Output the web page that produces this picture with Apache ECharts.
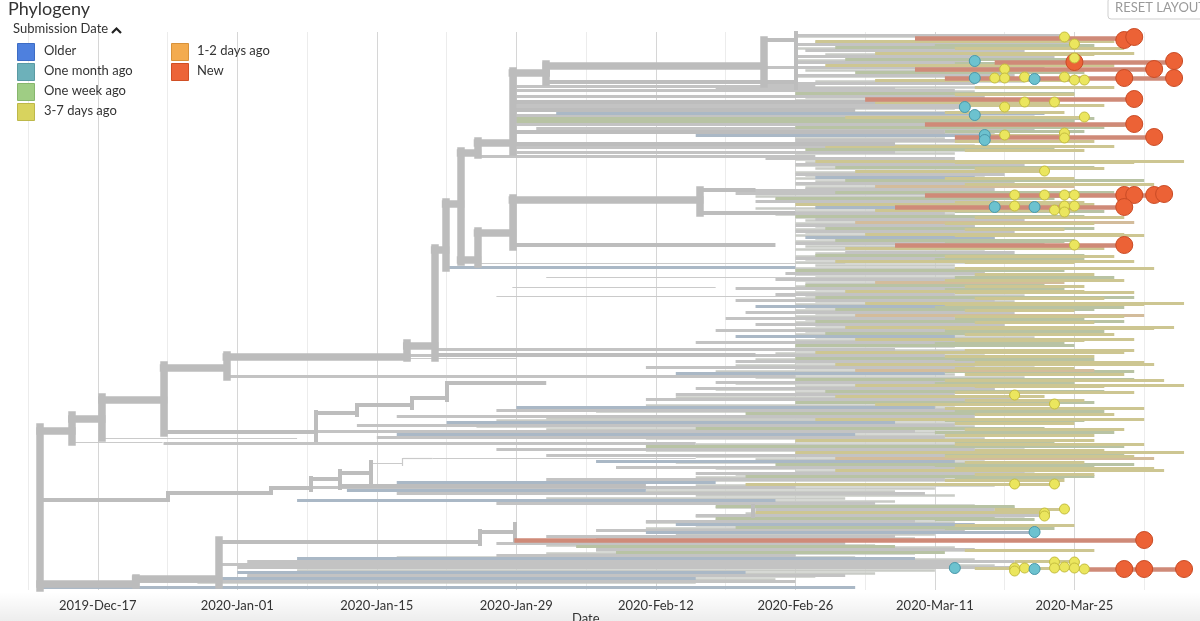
<!DOCTYPE html>
<html>
<head>
<meta charset="utf-8">
<script src="https://cdn.jsdelivr.net/npm/echarts@6/dist/echarts.min.js"></script>
<style>
html,body{margin:0;padding:0;background:#ffffff;}
#chart{width:1200px;height:621px;}
</style>
</head>
<body>
<div id="chart"></div>
<script>
// x = days after 2019-12-17, y = row position in the tree layout (top -> bottom)
const tickLabels = ['2019-Dec-17','2020-Jan-01','2020-Jan-15','2020-Jan-29','2020-Feb-12','2020-Feb-26','2020-Mar-11','2020-Mar-25'];
const legendLeft = ['Older','One month ago','One week ago','3-7 days ago'];
const legendRight = ['1-2 days ago','New'];

// Backbone horizontal branches [startDay, endDay, row]
const trunkHeavyH = [
  [-5.8,-2.6,431],[-2.6,0.4,419],[0.4,6.6,400],[6.6,12.9,368],[12.9,31.0,357],
  [31.0,33.8,346],[33.8,34.9,250],[34.9,36.4,204],[36.4,38.1,260],[38.1,41.6,233],
  [41.6,60.4,200],[36.4,38.1,153],[38.1,41.6,143],[41.6,45.0,73],[45.0,66.8,66],
  [-5.8,3.8,584],[3.8,12.1,579]
];
// Backbone vertical connectors [day, rowTop, rowBottom]
const trunkHeavyV = [
  [-5.8,427,588],[-2.6,415,442],[0.4,397,438],[6.6,365,433],[12.9,355,377],
  [31.0,343,358],[33.8,248,358],[34.9,202,268],[36.4,151,262],[38.1,231,264],
  [38.1,141,155],[41.6,198,247],[41.6,71,152],[45.0,64,82],[60.4,190,213],
  [66.8,40,84],[3.8,578,585],[12.1,540,585]
];
const trunkMediumH = [
  [41.6,68,245],[45.0,70,82],[66.8,70,40],[-5.8,7.0,500],[7.0,17.4,493],
  [17.4,21.4,488],[21.4,24.3,479],[24.3,27.4,473],[12.1,38.3,542],[38.3,41.8,532],
  [33.8,66,355],[60.4,66,190],[60.4,70,213],[24.3,55,486],[6.6,21.9,432],
  [21.9,26,413],[26,31.5,405],[31.5,35,398],[35,45,383],
  [41.6,78,102],[41.6,76,110],[41.6,85,132],[41.6,80,144]
];
const trunkMediumV = [
  [7.0,493,500],[17.4,488,493],[21.4,478,490],[24.3,471,488],[27.4,462,483],
  [38.3,531,544],[41.8,524,541],[70,33,88],[65.7,506,516],[21.9,412,440],
  [26,405,415],[31.5,398,408],[35,383,400]
];
const trunkThinH = [
  [-2.6,6.5,442],[0.4,20,438],[31.0,42,358],[27.4,30.6,463],[30.6,33.6,458],
  [34.9,70,268],[38.1,75,263],[45,73,277],[41.6,62,287],[40,70,296],[33.6,60,458]
];
const trunkThinV = [[30.6,458,466]];

// Tip lines by submission colour [startDay, endDay, row]
const tipsGray = [
  [70,97,35],[70,98,44],[71,93,50],[70,96,56],[70,88,62],[66.8,95,67],[70,92,75],[67,88,83],
  [42,72,86],[62,80,88],[42,86,90],[42,89,96],[42,90,104],[42,87,107],[42,88,115],[42,92,124],
  [44,94,128],[70,89,140],[42,92,147],[42,80,152],[38.1,72,156],
  [67,86,158],[70,93,164],[70,91,174],[70,92,183],[71,90,189],
  [61,85,190],[64,90,193],[66,90,201],[62,85,213],[72,93,219],[70,88,225],[70,92,231],[70,95,243],
  [75,92,252],[70,90,258],[69,89,273],[68,92,279],[64,90,288],[68,86,294],[64,90,300],
  [65,92,312],[63,86,318],[66,91,324],[62,89,330],[60,90,342],
  [33.8,80,349],[31,85,355],[64,92,361],[55,88,367],[12.9,70,376],[62,93,382],[60,90,388],
  [58,86,394],[55,92,399],[40,90,410],[30,88,416],[26,86,425],[22,82,431],[28,85,437],
  [6.6,60,443],[40,88,449],[45,92,455],[52,90,467],[60,93,473],[45,85,479],[20,70,487],[30,83,493],
  [40,78,503],[66,90,509],[60,95,515],[55,82,521],[50,87,530],[45,80,536],[40,75,543],[50,88,549],
  [40,70,555],[15,92,561],[12,86,564],[14,94,567],[15,75,575],[3.8,70,581]
];
const tipsGrayB = [
  [70,84,36.5],[72,90,42.5],[70,86,48.5],[73,92,54.5],[70,85,60.5],[71,89,70.5],[70,87,76.5],[72,93,81.5],
  [70,90,87.5],[72,88,91.5],[70,93,94.5],[71,86,97.5],[70,89,100.5],[73,95,105.5],[70,86,108.5],[70,91,112.5],
  [72,94,116.5],[70,88,122.5],[71,92,125.5],[70,87,129.5],[72,90,133.5],[70,85,138.5],[71,93,141.5],
  [70,88,145.5],[72,90,150.5],[70,86,153.5],
  [70,84,159.5],[71,90,162.5],[70,88,165.5],[72,92,168.5],[70,86,172.5],[71,89,175.5],[70,93,178.5],
  [72,87,181.5],[70,90,184.5],[71,88,187.5],
  [66,86,196.5],[68,89,199.5],[70,93,202.5],[66,88,208.5],[70,90,211.5],[68,86,214.5],[70,92,217.5],
  [71,89,220.5],[70,94,223.5],[72,88,226.5],[70,91,229.5],[71,87,232.5],[70,93,235.5],[72,90,238.5],
  [70,86,241.5],[71,92,246.5],[70,89,249.5],
  [72,90,253.5],[70,94,256.5],[71,88,259.5],[70,91,262.5],[72,86,265.5],[70,92,268.5],[71,89,271.5],
  [70,93,274.5],[72,87,277.5],[70,90,280.5],[71,94,283.5],[70,88,286.5],[72,91,289.5],[70,86,292.5],
  [71,93,295.5],[70,89,298.5],[72,92,301.5],[70,87,304.5],[71,90,307.5],[70,94,310.5],[72,88,313.5],
  [70,91,316.5],[71,86,319.5],[70,93,322.5],[72,89,325.5],[70,92,328.5],[71,87,331.5],[70,90,334.5],
  [72,94,337.5],[70,88,340.5],[71,91,343.5],[70,86,346.5],
  [70,92,350.5],[68,89,353.5],[70,93,356.5],[66,87,359.5],[70,90,362.5],[64,94,365.5],[70,88,368.5],
  [62,91,371.5],[70,86,374.5],[66,93,377.5],[70,89,380.5],[64,92,383.5],[70,87,386.5],[62,90,389.5],
  [70,94,392.5],[58,88,397.5],[70,91,400.5],[55,86,405.5],[60,93,408.5],[50,89,411.5],[70,92,414.5],
  [45,87,418.5],[40,90,420.5],[50,94,423.5],[38,88,426.5],[45,91,429.5],[40,86,432.5],[50,93,435.5],
  [55,89,438.5],
  [70,92,441.5],[60,88,444.5],[65,93,447.5],[55,90,450.5],[70,86,453.5],[60,94,456.5],[66,89,459.5],
  [58,92,462.5],[70,87,465.5],[62,90,468.5],[70,94,471.5],[64,88,474.5],[60,91,477.5],[55,86,480.5],
  [60,90,485.5],[50,84,488.5],[55,80,491.5],[60,86,495.5],[45,75,498.5],
  [55,80,501.5],[66,88,505],[62,92,507.5],[66,90,510.5],[65,88,513.5],[60,93,516.5],[62,90,519.5],
  [55,86,522.5],[60,92,525.5],[55,88,528.5],[58,84,534.5],[50,82,538],[45,78,545],[55,86,547.5],
  [50,90,550.5],[45,82,553.5],[30,76,557],[25,88,559.5],[20,85,562.5],[18,90,565.5],[20,84,570.5],
  [18,78,573.5],[15,72,576.5],[12,68,579.5],[10,60,582.5]
];
const tipsSage = [
  [74,99,47],[75,98,59],[76,99,72],[70,98,93],[41.6,100,118],[41.6,98,121],[70,101,127],
  [71,96,149],[74,100,167],[75,105,180],[74,102,192],[68,96,198],[70,99,216],[73,100,228],
  [74,98,240],[72,99,255],[70,97,270],[71,95,285],[72,104,297],[74,100,309],[72,103,321],
  [73,100,333],[70,98,345],[70,99,358],[70,104,379],[73,101,391],[70,100,402],[65,98,413],
  [60,95,428],[55,103,446],[68,104,464],[65,100,476],[62,92,506],[62,90,518],[64,90,527],
  [48,80,546],[52,85,552],
  [84,100,45.5],[86,97,63.5],[83,96,119.5],[85,99,131.5],[84,98,196.5],[86,101,211.5],[85,97,241.5],
  [84,99,259.5],[86,102,277.5],[85,97,289.5],[84,103,307.5],[86,99,319.5],[85,101,331.5],[84,97,343.5],
  [86,100,359.5],[85,104,371.5],[84,98,383.5],[86,101,411.5],[85,99,420.5],[84,102,432.5],[86,96,441.5],
  [85,103,453.5],[84,100,465.5],[86,97,477.5],[84,94,519.5],[85,96,528.5]
];
const tipsKhaki = [
  [72,102,41],[78,104,53],[73,102,65],[78,99,80],[72,96,102],[75,99,117],[89,97,135],
  [73,102,146],[72,109,161],[76,95,171],[85,98,195],[70,100,204],[78,98,210],[77,103,234],
  [75,101,248],[74,104,261],[75,99,291],[77,109,303],[75,108,327],[76,104,339],[72,103,352],
  [74,106,364],[76,109,385],[74,95,396],[78,96,404],[72,105,419],[70,100,440],[70,109,452],
  [74,107,470],[65,96,484],[90,97,509],[66,95,512],[92,98,561],[88,99,568],
  [86,103,48.5],[88,100,54.5],[85,99,70.5],[88,102,87.5],[86,98,94.5],[87,101,105.5],[85,97,112.5],
  [88,103,125.5],[86,100,141.5],[87,99,150.5],[86,104,162.5],[88,101,168.5],[85,98,178.5],[87,106,184.5],
  [86,99,202.5],[88,103,217.5],[85,100,223.5],[87,97,229.5],[86,105,235.5],
  [85,102,256.5],[87,98,262.5],[86,106,268.5],[88,100,274.5],[85,103,280.5],[87,99,286.5],[86,104,292.5],
  [88,101,298.5],[85,105,304.5],[87,98,310.5],[86,103,316.5],[88,100,322.5],[85,106,328.5],[87,102,334.5],
  [86,99,340.5],[87,104,350.5],[85,100,356.5],[88,105,362.5],[86,98,368.5],[87,103,374.5],[85,107,380.5],
  [88,101,386.5],[86,104,392.5],[87,99,400.5],[85,105,408.5],[88,102,414.5],[86,98,423.5],[87,103,429.5],
  [85,100,435.5],[86,105,444.5],[88,101,450.5],[85,104,456.5],[87,99,462.5],[86,106,468.5],[88,100,474.5],
  [85,97,480.5],[86,98,525.5],[87,100,550.5]
];
const tipsTan = [
  [78,98,186],[76,104,222],[78,97,282],[76,105,315],[76,100,370],[74,106,458]
];
const tipsBlue = [
  [46,95,113],[60,89,135],[72,88,177],[72,94,207],[71,90,237],[35,70,267],[66,88,306],
  [64,86,336],[58,85,373],[42,84,407],[35,80,422],[30,76,434],[50,86,461],[30,62,482],
  [25,55,490],[20,68,500],[58,88,524],[55,94,532],[20,82,558],[14,65,572],[12,60,578],[-5.8,76,587]
];
const tipsNew = [
  [82,104,38],[90,108,62],[82,106,69],[85,108,78],[77,104,99],[83,104,124],[86,106,137],
  [83,107,195],[80,103,207],[80,103,245],[41.8,105,540],[99,109,569]
];

// Tip markers [day, row]
const newDots = [
  [103,40],[104,37],[98,62],[108,61],[106,69],[103,78],[108,78],[104,99],[104,124],[106,137],
  [103,195],[104,195],[106,195],[107,194],[103,207],[103,245],[105,540],[103,569],[105,569],[109,569]
];
const recentDots = [
  [97,37],[98,44],[98,58],[91,69],[90,78],[91,78],[93,77],[97,77],[98,80],[99,80],[93,102],[96,102],
  [91,107],[99,117],[91,135],[97,133],[97,138],[95,171],[92,195],[95,195],[97,195],[98,195],
  [92,206],[96,210],[97,206],[97,212],[98,206],[98,245],[92,395],[96,404],[92,484],[96,484],
  [95,513],[95,516],[97,509],[92,568],[92,571],[93,568],[96,562],[96,568],[97,567],[98,562],[98,568],[99,569]
];
const monthDots = [
  [88,61],[88,78],[94,79],[87,107],[88,115],[89,135],[89,140],[90,207],[94,207],[94,532],[86,568],[94,569]
];

const FONT = 'Lato, "Open Sans", sans-serif';
const legendColors = {
  'Older': ['#4e80de','#3d6cc4'],
  'One month ago': ['#6db1ba','#5a9aa3'],
  'One week ago': ['#9fcd84','#87b66d'],
  '3-7 days ago': ['#d8d35e','#bdb84a'],
  '1-2 days ago': ['#f3ab4e','#d8923a'],
  'New': ['#ec6438','#d04f25']
};

const hLines = arr => arr.map(([a,b,r]) => ({coords:[[a,r],[b,r]]}));
const vLines = arr => arr.map(([d,t,b]) => ({coords:[[d,t],[d,b]]}));
function lineSeries(name, data, color, width, z, cap){
  return {type:'lines', name, coordinateSystem:'cartesian2d', polyline:false, data,
    lineStyle:{color, width, opacity:1, curveness:0, cap: cap || 'butt'},
    silent:true, z, animation:false, clip:false};
}
function dotSeries(name, data, color, border, size, z){
  return {type:'scatter', name, data, symbol:'circle', symbolSize:size,
    itemStyle:{color, borderColor:border, borderWidth:1, opacity:1},
    silent:true, z, animation:false, clip:false};
}

const graphics = [
  {type:'rect', z:-1, shape:{x:0,y:592,width:1200,height:29},
    style:{fill:new echarts.graphic.LinearGradient(0,0,0,1,[{offset:0,color:'rgba(0,0,0,0)'},{offset:1,color:'rgba(0,0,0,0.07)'}])}},
  {type:'text', z:100, left:8, top:0, style:{text:'Phylogeny', fontSize:18, fill:'#333', fontFamily:FONT}},
  {type:'text', z:100, left:13, top:22, style:{text:'Submission Date', fontSize:13, fill:'#333', fontFamily:FONT}},
  {type:'polyline', z:100, shape:{points:[[112,33],[116.5,28.5],[121,33]]}, style:{stroke:'#222', lineWidth:2.2, fill:null}},
  {type:'rect', z:100, shape:{x:1108,y:-2,width:100,height:21,r:3}, style:{fill:'#fff', stroke:'#cfcfcf', lineWidth:1}},
  {type:'text', z:101, left:1115, top:1, style:{text:'RESET LAYOUT', fontSize:13, fill:'#9a9a9a', fontFamily:FONT}},
  {type:'text', z:100, left:572, top:612, style:{text:'Date', fontSize:13, fill:'#333', fontFamily:FONT}}
];
legendLeft.forEach((name,i) => {
  graphics.push({type:'rect', z:100, shape:{x:17.5,y:43.5+i*20,width:17,height:17}, style:{fill:legendColors[name][0], stroke:legendColors[name][1], lineWidth:1}});
  graphics.push({type:'text', z:100, left:44, top:44+i*20, style:{text:name, fontSize:13, fill:'#333', fontFamily:FONT}});
});
legendRight.forEach((name,i) => {
  graphics.push({type:'rect', z:100, shape:{x:171.5,y:43.5+i*20,width:17,height:17}, style:{fill:legendColors[name][0], stroke:legendColors[name][1], lineWidth:1}});
  graphics.push({type:'text', z:100, left:197, top:44+i*20, style:{text:name, fontSize:13, fill:'#333', fontFamily:FONT}});
});

const chart = echarts.init(document.getElementById('chart'), null, {renderer:'canvas'});
chart.setOption({
  animation:false,
  backgroundColor:'#ffffff',
  grid:{left:28, right:0, top:32, bottom:31, containLabel:false},
  xAxis:{type:'value', min:-7, max:110.6, interval:7,
    axisLine:{show:false}, axisTick:{show:false},
    splitLine:{show:true, lineStyle:{color:['#ececec','#d6d6d6'], width:1}},
    axisLabel:{color:'#333', fontSize:13, fontFamily:FONT, margin:9, showMinLabel:true, showMaxLabel:false,
      formatter: v => (v >= 0 && v % 14 === 0 && tickLabels[v/14]) ? tickLabels[v/14] : ''}},
  yAxis:{type:'value', min:32, max:590, inverse:true, show:false, splitLine:{show:false}},
  graphic: graphics,
  series:[
    lineSeries('thinV', vLines(trunkThinV), '#cacaca', 1.2, 1),
    lineSeries('thinH', hLines(trunkThinH), '#cacaca', 1.2, 1),
    lineSeries('grayB', hLines(tipsGrayB), '#c9cbc6', 2.6, 2),
    lineSeries('gray', hLines(tipsGray), '#c3c3c3', 2.8, 2),
    lineSeries('blue', hLines(tipsBlue), '#aab8c6', 2.8, 2),
    lineSeries('sage', hLines(tipsSage), '#b8c3a4', 2.8, 3),
    lineSeries('tan', hLines(tipsTan), '#d3bc9b', 2.8, 3),
    lineSeries('khaki', hLines(tipsKhaki), '#cdc692', 2.8, 3),
    lineSeries('medV', vLines(trunkMediumV), '#bdbdbd', 4, 4, 'square'),
    lineSeries('medH', hLines(trunkMediumH), '#bdbdbd', 4, 4),
    lineSeries('heavyV', vLines(trunkHeavyV), '#bcbcbc', 7.5, 5, 'square'),
    lineSeries('heavyH', hLines(trunkHeavyH), '#bcbcbc', 7.5, 5, 'square'),
    lineSeries('new', hLines(tipsNew), '#cf8a78', 4.5, 6),
    dotSeries('New', newDots, '#ec6236', '#c94b25', 17, 7),
    dotSeries('3-7 days ago', recentDots, '#ebe65e', '#c4bd3e', 10, 8),
    dotSeries('One month ago', monthDots, '#6cc2cf', '#4a98aa', 11, 9)
  ]
});
</script>
</body>
</html>
